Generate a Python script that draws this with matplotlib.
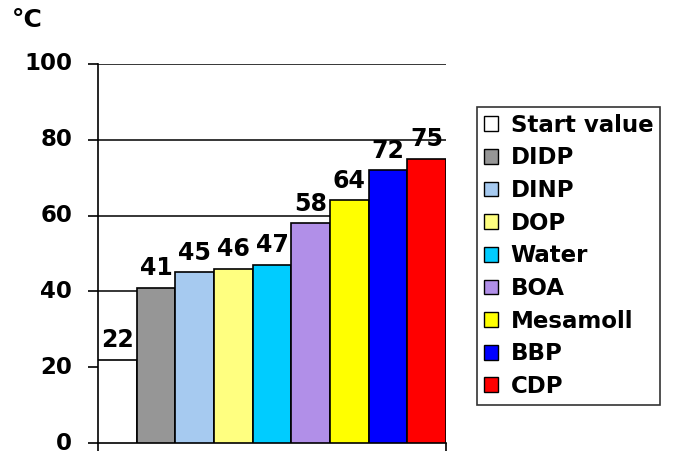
import numpy as np
import matplotlib.pyplot as plt
from matplotlib.patches import Patch

labels = ['Start value', 'DIDP', 'DINP', 'DOP', 'Water', 'BOA', 'Mesamoll', 'BBP', 'CDP']
values = [22, 41, 45, 46, 47, 58, 64, 72, 75]
colors = ['#ffffff', '#969696', '#a6caf0', '#ffff80', '#00ccff',
          '#b18fe8', '#ffff00', '#0000ff', '#ff0000']
yticks = [0, 20, 40, 60, 80, 100]

plt.rcParams['font.family'] = 'DejaVu Sans'
plt.rcParams['font.weight'] = 'bold'

fig = plt.figure(figsize=(6.96, 4.54), dpi=100)
ax = fig.add_axes([98 / 696, 1 - 443 / 454, 348 / 696, 379 / 454])

x = np.arange(len(values))
ax.bar(x, values, width=1.0, color=colors, edgecolor='black', linewidth=1.2, zorder=3)

for xi, v in zip(x, values):
    ax.text(xi, v + 2.0, str(v), ha='center', va='bottom', fontsize=17,
            fontweight='bold', zorder=4)

ax.set_xlim(-0.5, len(values) - 0.5)
ax.set_ylim(0, 100)
ax.set_yticks(yticks)
ax.set_yticklabels([str(t) for t in yticks], fontsize=16.5, fontweight='bold',
                   va='center')
ax.tick_params(axis='y', length=7.5, width=1.2, pad=11)
ax.set_xticks([-0.5, len(values) - 0.5])
ax.set_xticklabels(['', ''])
ax.tick_params(axis='x', length=6, width=1.2)
ax.grid(axis='y', color='black', linewidth=1.1, zorder=0)

for side in ['top', 'right']:
    ax.spines[side].set_visible(False)
for side in ['left', 'bottom']:
    ax.spines[side].set_linewidth(1.2)

fig.text(12 / 696, 1 - 20 / 454, '°C', fontsize=18, fontweight='bold', va='center')

handles = [Patch(facecolor=c, edgecolor='black', linewidth=1) for c in colors]
leg = fig.legend(handles, labels, loc='upper left',
                 bbox_to_anchor=(477 / 696, 1 - 107 / 454),
                 prop={'weight': 'bold', 'size': 16.5},
                 handlelength=0.62, handleheight=0.62, handletextpad=0.55,
                 labelspacing=0.42, borderpad=0.3, borderaxespad=0,
                 fancybox=False, frameon=True, edgecolor='black')
leg.get_frame().set_linewidth(1.2)

fig.savefig('out.png', dpi=100)
